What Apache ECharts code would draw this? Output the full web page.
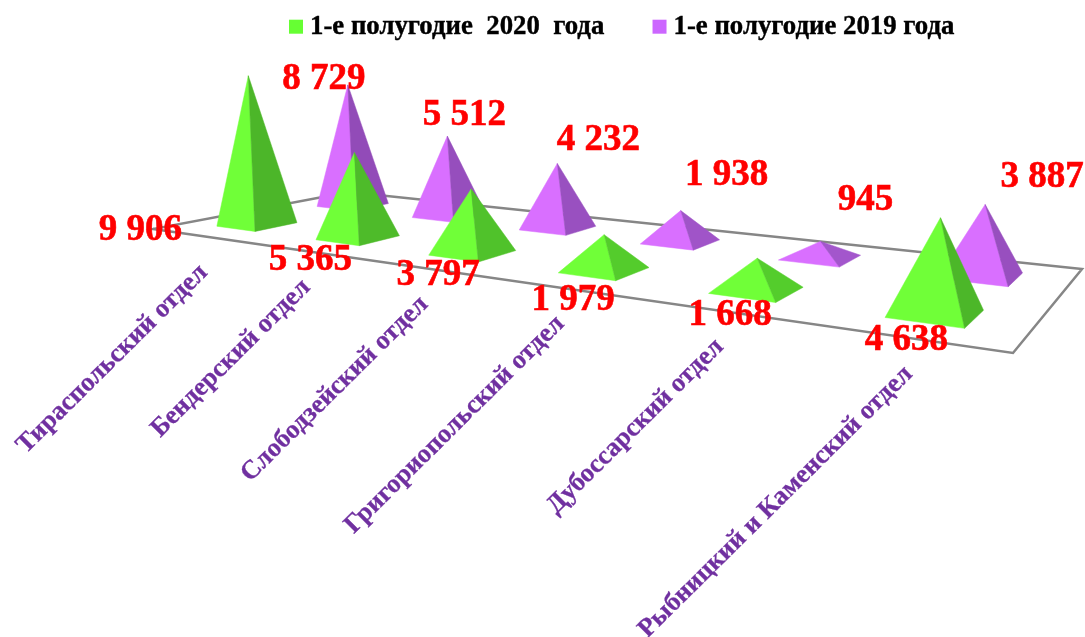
<!DOCTYPE html>
<html><head><meta charset="utf-8">
<style>html,body{margin:0;padding:0;background:#fff}#c{width:1085px;height:637px}</style>
<script src="https://cdn.jsdelivr.net/npm/echarts@6/dist/echarts.min.js"></script>
</head><body><div id="c"></div>
<script>
const categories = ['Тираспольский отдел','Бендерский отдел','Слободзейский отдел','Григориопольский отдел','Дубоссарский отдел','Рыбницкий и Каменский отдел'];
const values2020 = [9906,5365,3797,1979,1668,4638];
const values2019 = [8729,5512,4232,1938,945,3887];
const seriesNames = ['1-е полугодие  2020  года','1-е полугодие 2019 года'];

// label placement relative to each pyramid's apex (style only)
const labelShift2020 = [[-108,155],[-44,108],[-33,87],[-31,66],[-27,57],[-34,123]];
const labelShift2019 = [[-24,-5],[17,-21],[41,-23],[46,-35],[45,-41],[57,-27]];

// Floor quad of the 3D scene in picture space: front-left, front-right, back-right, back-left
const Q = [[153,229],[1013,353],[1082,269],[349,192]];
const GRID = {left:153, top:80, width:860, height:153};

const H = (function(){
  const [[x0,y0],[x1,y1],[x2,y2],[x3,y3]] = Q;
  const dx1=x1-x2, dx2=x3-x2, sx=x0-x1+x2-x3, dy1=y1-y2, dy2=y3-y2, sy=y0-y1+y2-y3;
  const det=dx1*dy2-dx2*dy1;
  const g=(sx*dy2-dx2*sy)/det, h=(dx1*sy-sx*dy1)/det;
  return {a:x1-x0+g*x1,b:x3-x0+h*x3,c:x0,d:y1-y0+g*y1,e:y3-y0+h*y3,f:y0,g,h};
})();
function project(u,v){
  const w=H.g*u+H.h*v+1;
  return {x:(H.a*u+H.b*v+H.c)/w, y:(H.d*u+H.e*v+H.f)/w, w};
}
const fmt = v => String(v).replace(/\B(?=(\d{3})+(?!\d))/g,' ');
const pt = p => [p.x+2,p.y];
function mix(a,b,t){return a.map((c,i)=>Math.round(c+(b[i]-c)*t));}
const rgb = c => 'rgb('+c.join(',')+')';

function pyramid(depth, shifts, z, colL, colR, colRLight){
  return function(params, api){
    const i=api.value(0), val=api.value(1);
    const u=(api.coord([i,0])[0]-GRID.left)/GRID.width;
    const du=0.4*api.size([1,0])[0]/2/GRID.width, dv=0.1;
    const c=project(u,depth);
    const hgt=api.size([0,val])[1]/Math.pow(c.w,0.9);
    const apex=[c.x+2+hgt*(c.x-600)*0.000174, c.y-hgt];
    const A=project(u-du,depth-dv), B=project(u+du,depth-dv), D=project(u+du,depth+dv);
    const flat=Math.max(0,Math.min(1,1-hgt/100));
    const s=shifts[i];
    const poly=(pts,fill)=>({type:'polygon',z2:z,shape:{points:pts},style:{fill:fill,stroke:fill,lineWidth:0.5}});
    return {type:'group',children:[
      poly([pt(A),pt(B),apex],colL),
      poly([pt(B),pt(D),apex],rgb(mix(colR,colRLight,flat))),
      {type:'text',z2:z+10,x:apex[0]+s[0],y:apex[1]+s[1],style:{text:fmt(val),fill:'#ff0000',stroke:'#ff0000',lineWidth:0.6,
        font:'bold 37px "Liberation Serif","Times New Roman",serif',textAlign:'center',textVerticalAlign:'middle'}}
    ]};
  };
}

const chart=echarts.init(document.getElementById('c'),null,{renderer:'canvas'});
chart.setOption({
  animation:false,
  backgroundColor:'#ffffff',
  legend:{data:seriesNames,left:284,top:8,icon:'rect',itemWidth:14,itemHeight:14,itemGap:48,
    textStyle:{fontFamily:'"Liberation Serif","Times New Roman",serif',fontWeight:'bold',fontSize:26.8,color:'#000',padding:[0,0,0,2],
      textBorderColor:'#000',textBorderWidth:0.4}},
  grid:GRID,
  xAxis:{type:'category',data:categories,show:false},
  yAxis:{type:'value',min:0,max:10000,interval:2000,show:false},
  series:[
    {name:seriesNames[0],type:'custom',itemStyle:{color:'#66ff33'},data:values2020.map((v,i)=>[i,v]),encode:{x:0,y:1},
      renderItem:pyramid(0.25,labelShift2020,3,'#70ff38',[76,182,41],[88,216,46])},
    {name:seriesNames[1],type:'custom',itemStyle:{color:'#cc66ff'},data:values2019.map((v,i)=>[i,v]),encode:{x:0,y:1},
      renderItem:pyramid(0.75,labelShift2019,2,'#d96fff',[146,75,184],[166,88,208])},
    {name:'пол',type:'custom',data:[[0,0]],encode:{x:0,y:1},silent:true,
      renderItem:function(){
        return {type:'polygon',z2:1,shape:{points:[[0,0],[1,0],[1,1],[0,1]].map(q=>{const p=project(q[0],q[1]);return [p.x,p.y];})},
          style:{fill:'#ffffff',stroke:'#868686',lineWidth:2.5}};
      }},
    {name:'подписи',type:'custom',data:categories.map((c,i)=>[i,0]),encode:{x:0,y:1},silent:true,
      renderItem:function(params,api){
        const i=api.value(0);
        const u=(api.coord([i,0])[0]-GRID.left)/GRID.width;
        const p=project(u,0);
        return {type:'text',z2:1,x:p.x+4,y:p.y+33,rotation:44.7*Math.PI/180,
          style:{text:categories[i],fill:'#7030a0',stroke:'#7030a0',lineWidth:0.3,font:'bold 26.3px "Liberation Serif","Times New Roman",serif',
            textAlign:'right',textVerticalAlign:'middle'}};
      }}
  ]
});
</script></body></html>
